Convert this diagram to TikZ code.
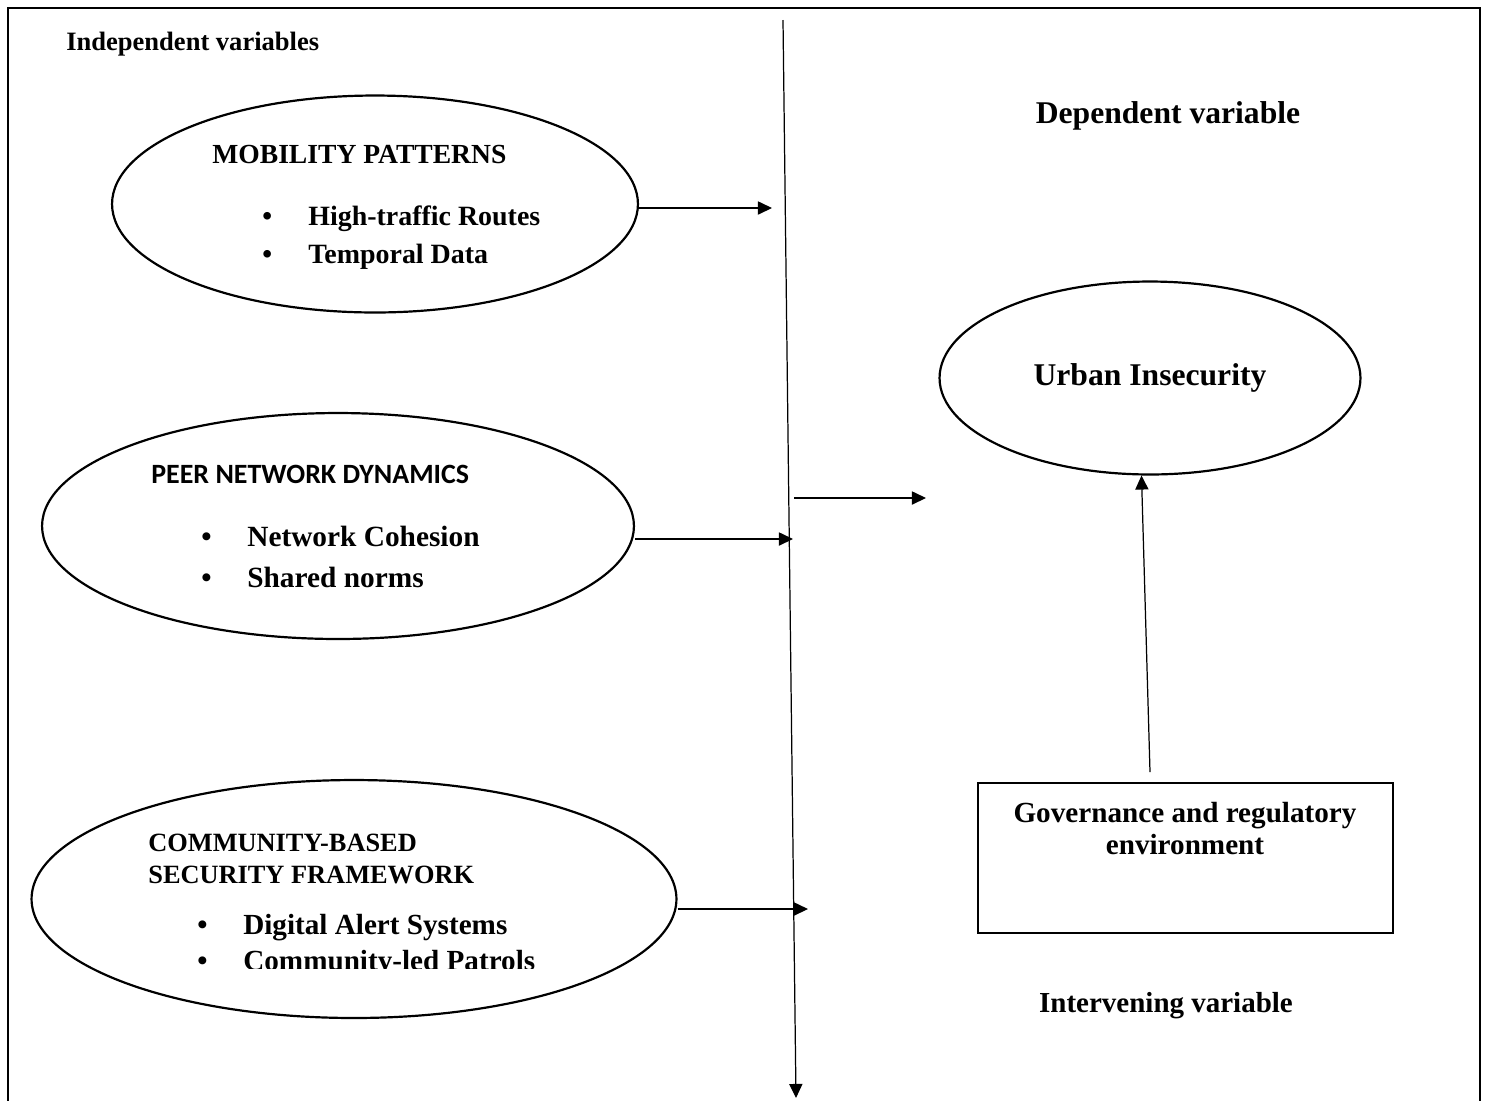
\documentclass[tikz,border=0pt]{standalone}
\usepackage{fontspec}
\setmainfont{Liberation Serif}
\newfontfamily\calibri{Carlito}
\usetikzlibrary{arrows.meta,shapes.geometric}

\newcommand{\bitem}[1]{\makebox[0.92cm][l]{\textbullet}#1}

\begin{document}
\begin{tikzpicture}[x=0.02cm,y=-0.02cm,>={Triangle[length=8pt,width=7.5pt]},
  frame/.style={line width=1.5pt},
  oval/.style={draw,ellipse,line width=1.25pt,inner sep=0pt},
  link/.style={->,line width=0.7pt},
  txt/.style={inner sep=0pt,anchor=base west,font=\bfseries\fontsize{#1}{#1}\selectfont},
  ctxt/.style={inner sep=0pt,anchor=base,font=\bfseries\fontsize{#1}{#1}\selectfont}]
 \useasboundingbox (0,0) rectangle (1487,1100);
 \draw[frame] (8,1120) -- (8,8) -- (1480,8) -- (1480,1120);

 \node[txt=15.1] (indep) at (66,50) {Independent variables};
 \node[ctxt=18] (dep) at (1168,123) {Dependent variable};
 \node[ctxt=16.5] (interv) at (1166,1012) {Intervening variable};

 % independent variables
 \node[oval,minimum width=10.52cm,minimum height=4.34cm] (mob) at (375,204) {};
 \node[txt=15.7] (mobh) at (212,163) {MOBILITY PATTERNS};
 \node[txt=15.9] (mob1) at (262,225) {\bitem{High-traffic Routes}};
 \node[txt=15.9] (mob2) at (262,263) {\bitem{Temporal Data}};

 \node[oval,minimum width=11.84cm,minimum height=4.52cm] (peer) at (338,526) {};
 \node[txt=15.9] (peerh) at (151,483) {\calibri PEER NETWORK DYNAMICS};
 \node[txt=16.7] (peer1) at (201,546) {\bitem{Network Cohesion}};
 \node[txt=16.7] (peer2) at (201,587) {\bitem{Shared norms}};

 \node[oval,minimum width=12.9cm,minimum height=4.76cm] (comm) at (354,899) {};
 \node[txt=15] (commh1) at (148,851) {COMMUNITY-BASED};
 \node[txt=15] (commh2) at (148,883) {SECURITY FRAMEWORK};
 \node[txt=16.6] (comm1) at (197,934) {\bitem{Digital Alert Systems}};
 \begin{scope}
  \clip (0,0) rectangle (1487,968);
  \node[txt=16.6] (comm2) at (197,970) {\bitem{Community-led Patrols}};
 \end{scope}

 % dependent and intervening variables
 \node[oval,minimum width=8.42cm,minimum height=3.86cm,font=\bfseries\fontsize{18}{18}\selectfont] (urban) at (1150,378) {Urban Insecurity};
 \node[draw,line width=1.25pt,minimum width=8.3cm,minimum height=3cm] (gov) at (1185.5,858) {};
 \node[ctxt=16.6] (gov1) at (1185,822) {Governance and regulatory};
 \node[ctxt=16.6] (gov2) at (1185,854) {environment};

 \coordinate (vtop) at (783,20);
 \coordinate (vbot) at (796,1098);
 \coordinate (a1) at (772,208);
 \coordinate (a2) at (793,539);
 \coordinate (a3) at (808,909);
 \coordinate (b1) at (794,498);
 \coordinate (b2) at (926,498);
 \coordinate (gtop) at (1150,772);

 \draw[link] (vtop) -- (vbot);
 \draw[link] (a1 -| mob.east) -- (a1);
 \draw[link] (a2 -| peer.east) -- (a2);
 \draw[link] (a3 -| comm.east) -- (a3);
 \draw[link] (b1) -- (b2);
 \draw[link] (gtop) -- (urban.-95);
\end{tikzpicture}
\end{document}
